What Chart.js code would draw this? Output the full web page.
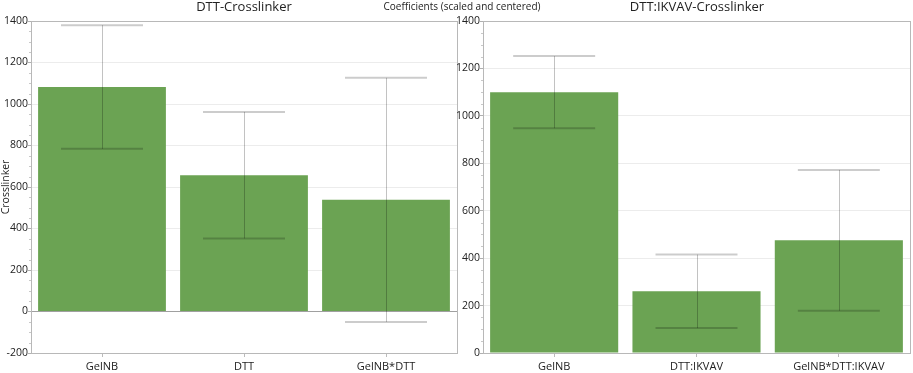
<!DOCTYPE html>
<html>
<head>
<meta charset="utf-8">
<script src="https://cdn.jsdelivr.net/npm/chart.js@4.4.0/dist/chart.umd.min.js"></script>
<style>
  body { margin: 0; background: #fff; font-family: "Open Sans", sans-serif; }
  #wrap { position: relative; width: 913px; height: 373px; overflow: hidden; }
  .box { position: absolute; top: 0; height: 373px; }
  .ttl { position: absolute; white-space: nowrap; transform: translateX(-50%); color: #222; }
</style>
</head>
<body>
<div id="wrap">
  <div class="box" style="left:0; width:462px;"><canvas id="left"></canvas></div>
  <div class="box" style="left:452px; width:461px;"><canvas id="right"></canvas></div>
  <div class="ttl" style="left:244px; top:-3px; font-size:13px;">DTT-Crosslinker</div>
  <div class="ttl" style="left:462px; top:-1px; font-size:10px;">Coefficients (scaled and centered)</div>
  <div class="ttl" style="left:697px; top:-3px; font-size:13px;">DTT:IKVAV-Crosslinker</div>
</div>
<script>
// left panel: DTT-Crosslinker
const leftLabels = ["GelNB", "DTT", "GelNB*DTT"];
const leftCoef = [1082, 657, 538];
const leftErr = [298, 305, 588];

// right panel: DTT:IKVAV-Crosslinker
const rightLabels = ["GelNB", "DTT:IKVAV", "GelNB*DTT:IKVAV"];
const rightCoef = [1100, 260, 475];
const rightErr = [152, 155, 297];

const barColor = "#6ba353";
const frameColor = "#b8b8b8";
const tickFont = { family: "Open Sans", size: 10.5 };

// error bars + frame + minor ticks
const extras = {
    id: "extras",
    afterDatasetsDraw(chart, args, opts) {
        const ctx = chart.ctx;
        const x = chart.scales.x, y = chart.scales.y;
        const a = chart.chartArea;
        ctx.save();
        opts.coef.forEach(function(v, i) {
            const cx = x.getPixelForValue(i);
            const hi = y.getPixelForValue(v + opts.err[i]);
            const lo = y.getPixelForValue(v - opts.err[i]);
            ctx.strokeStyle = "rgba(0,0,0,0.24)";
            ctx.lineWidth = 1;
            ctx.beginPath();
            ctx.moveTo(Math.round(cx) + 0.5, hi);
            ctx.lineTo(Math.round(cx) + 0.5, lo);
            ctx.stroke();
            ctx.strokeStyle = "rgba(0,0,0,0.2)";
            ctx.lineWidth = 2;
            ctx.beginPath();
            ctx.moveTo(cx - 41, hi); ctx.lineTo(cx + 41, hi);
            ctx.moveTo(cx - 41, lo); ctx.lineTo(cx + 41, lo);
            ctx.stroke();
        });
        // plot frame
        ctx.strokeStyle = frameColor;
        ctx.lineWidth = 1;
        ctx.strokeRect(Math.round(a.left) + 0.5, Math.round(a.top) + 0.5,
            Math.round(a.right - a.left), Math.round(a.bottom - a.top));
        // minor ticks on y axis
        ctx.strokeStyle = "#c8c8c8";
        for (let v = y.min; v <= y.max; v += 50) {
            if (v % 200 === 0) continue;
            const py = Math.round(y.getPixelForValue(v)) + 0.5;
            ctx.beginPath();
            ctx.moveTo(a.left - 2, py);
            ctx.lineTo(a.left, py);
            ctx.stroke();
        }
        ctx.restore();
    }
};

function makeChart(id, labels, coef, err, yMin, axisW, yTitle, padRight) {
    return new Chart(document.getElementById(id), {
        type: "bar",
        data: {
            labels: labels,
            datasets: [{
                data: coef,
                backgroundColor: barColor,
                borderWidth: 0,
                categoryPercentage: 1,
                barPercentage: 0.9
            }]
        },
        options: {
            responsive: true,
            maintainAspectRatio: false,
            animation: false,
            layout: { padding: { top: 21, right: padRight, left: 0, bottom: 0 } },
            scales: {
                x: {
                    grid: { display: true, drawOnChartArea: false, offset: false,
                            tickLength: 4, tickColor: "#bbb" },
                    border: { display: false },
                    ticks: { font: { family: "Open Sans", size: 11 }, color: "#222", padding: 3, maxRotation: 0 },
                    afterFit: function(s) { s.height = 20; }
                },
                y: {
                    min: yMin, max: 1400,
                    ticks: { stepSize: 200, font: tickFont, color: "#222", padding: 0,
                             callback: function(v) { return String(v); } },
                    grid: {
                        color: function(c) { return c.tick && c.tick.value === 0 && yMin < 0 ? "#a0a0a0" : "#ececec"; },
                        tickColor: "#b0b0b0",
                        tickLength: 3
                    },
                    border: { display: false },
                    title: { display: !!yTitle, text: yTitle, font: { family: "Open Sans", size: 10.5 },
                             color: "#222", padding: { top: 0, bottom: 0 } },
                    afterFit: function(s) { s.width = axisW; }
                }
            },
            plugins: {
                legend: { display: false },
                tooltip: { enabled: false },
                extras: { coef: coef, err: err }
            }
        },
        plugins: [extras]
    });
}

makeChart("left", leftLabels, leftCoef, leftErr, -200, 31, "Crosslinker", 5);
makeChart("right", rightLabels, rightCoef, rightErr, 0, 31, "", 3);
</script>
</body>
</html>
